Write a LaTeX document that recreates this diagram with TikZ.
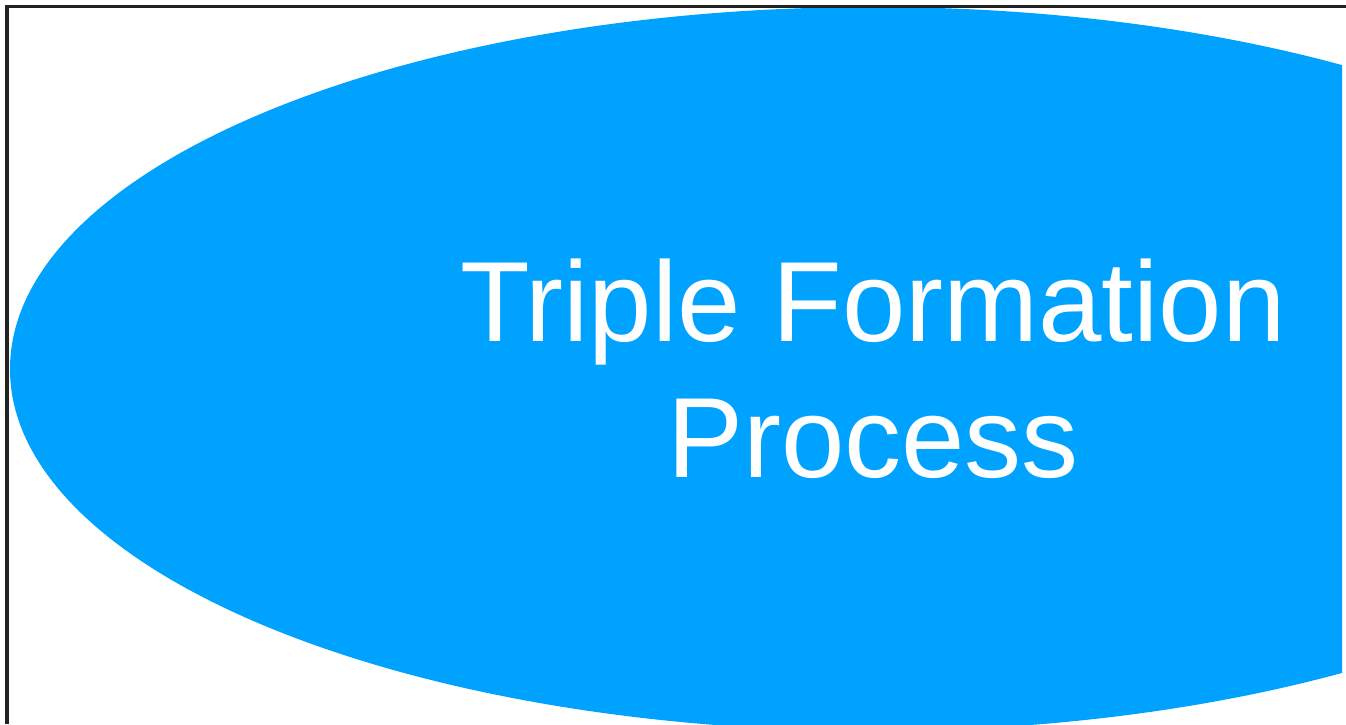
\documentclass[tikz,border=0pt]{standalone}
\usepackage{fontspec}
\setmainfont{Liberation Sans}
\usetikzlibrary{shapes.geometric}
\definecolor{procblue}{RGB}{0,162,255}
\definecolor{framegray}{RGB}{34,34,34}
\tikzset{
  procellipse/.style={ellipse, fill=procblue, draw=none, inner sep=0pt,
    minimum width=1726pt, minimum height=724pt, text=white, align=center,
    font=\fontsize{114}{136}\selectfont},
  frameline/.style={draw=framegray, line width=3.5pt}
}
\begin{document}
\begin{tikzpicture}[x=1pt,y=-1pt]
\useasboundingbox (0,0) rectangle (1346,724);
\fill[white] (0,0) rectangle (1346,724);
\begin{scope}
\clip (8,8) rectangle (1342,724);
\node[procellipse] (proc) at (873,369) {Triple Formation\\Process};
\end{scope}
\coordinate (tl) at (7,6.5);
\coordinate (bl) at (7,724);
\coordinate (tr) at (1346,6.5);
\draw[frameline] (bl) -- (tl) -- (tr);
\end{tikzpicture}
\end{document}
